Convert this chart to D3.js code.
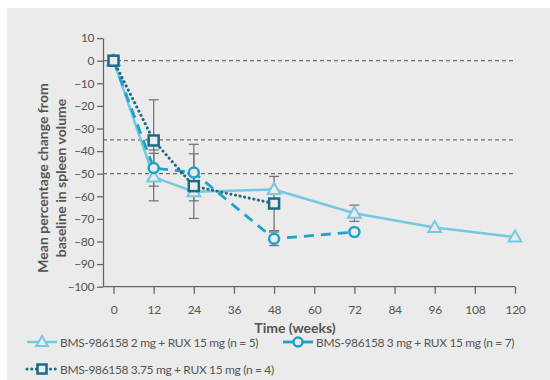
<!DOCTYPE html>
<html>
<head>
<meta charset="utf-8">
<script src="https://cdn.jsdelivr.net/npm/d3@7"></script>
<style>
  html, body { margin: 0; padding: 0; background: #fff; }
  svg { display: block; }
  text { font-family: Lato, "Open Sans", sans-serif; }
</style>
</head>
<body>
<svg id="chart" width="550" height="380"></svg>
<script>
// Time points (weeks) and tick labels
const xTicks = [0, 12, 24, 36, 48, 60, 72, 84, 96, 108, 120];
const yTicks = [10, 0, -10, -20, -30, -40, -50, -60, -70, -80, -90, -100];
const refLines = [0, -35, -50];

// Mean % change in spleen volume per cohort, with error-bar half-widths
const weeks2mg   = [0, 12, 24, 48, 72, 96, 120];
const mean2mg    = [0, -51.5, -58, -57, -67.5, -73.8, -78];
const err2mg     = [0, 10.5, 0, 0, 3.6, 0, 0];

const weeks3mg   = [0, 12, 24, 48, 72];
const mean3mg    = [0, -47.5, -49.5, -78.8, -75.8];
const err3mg     = [0, 8, 12.5, 3, 0];

const weeks375mg = [0, 12, 24, 48];
const mean375mg  = [0, -35.3, -55.5, -63.2];
const err375mg   = [0, 18, 14.3, 12];

const legendLabels = [
  "BMS-986158 2 mg + RUX 15 mg (n = 5)",
  "BMS-986158 3 mg + RUX 15 mg (n = 7)",
  "BMS-986158 3.75 mg + RUX 15 mg (n = 4)"
];

const bg = "#ebebeb";
const series = [
  { weeks: weeks2mg, mean: mean2mg, err: err2mg, color: "#74c8df", dash: null, cap: "butt", width: 2.5, shape: "triangle" },
  { weeks: weeks3mg, mean: mean3mg, err: err3mg, color: "#1ea3c6", dash: "10,7", cap: "butt", width: 2.8, shape: "circle" },
  { weeks: weeks375mg, mean: mean375mg, err: err375mg, color: "#1c6b83", dash: "0.1,4.6", cap: "round", width: 3, shape: "square" }
];

const svg = d3.select("#chart");
svg.append("rect").attr("x", 7).attr("y", 8).attr("width", 543).attr("height", 372).attr("fill", bg);

const x = d3.scaleLinear().domain([0, 120]).range([113.5, 515]);
const y = d3.scaleLinear().domain([-100, 10]).range([286.7, 38.1]);
const axisLeftX = 103;

// Reference lines
svg.append("g").selectAll("line").data(refLines).join("line")
  .attr("x1", axisLeftX).attr("x2", x(120))
  .attr("y1", d => y(d)).attr("y2", d => y(d))
  .attr("stroke", "#6e6e6e").attr("stroke-width", 1.2).attr("stroke-dasharray", "4,3");

// Y axis
const yAxis = svg.append("g").attr("transform", `translate(${axisLeftX},0)`)
  .call(d3.axisLeft(y).tickValues(yTicks).tickSize(6).tickPadding(3).tickSizeOuter(0));
yAxis.select(".domain").attr("stroke", "#666").attr("stroke-width", 1.3);
yAxis.selectAll(".tick line").attr("stroke", "#666").attr("stroke-width", 1.3);
yAxis.selectAll(".tick text").attr("fill", "#555").style("font-size", "12px").style("letter-spacing", "-0.4px");

// X axis
const xAxis = svg.append("g").attr("transform", `translate(0,${y(-100)})`)
  .call(d3.axisBottom(x).tickValues(xTicks).tickSize(7).tickPadding(12).tickSizeOuter(0));
xAxis.select(".domain").attr("d", `M${axisLeftX},0H${x(120)}`).attr("stroke", "#666").attr("stroke-width", 1.3);
xAxis.selectAll(".tick line").attr("stroke", "#666").attr("stroke-width", 1.3);
xAxis.selectAll(".tick text").attr("fill", "#555").style("font-size", "12px").style("letter-spacing", "-0.3px");

// Axis titles
svg.append("text").attr("x", 295).attr("y", 333).attr("text-anchor", "middle")
  .attr("fill", "#555").style("font-size", "14px").style("font-weight", "700").text("Time (weeks)");
const yt = svg.append("text").attr("transform", "translate(48,178) rotate(-90)")
  .attr("text-anchor", "middle").attr("fill", "#555").style("font-size", "14px").style("font-weight", "700");
yt.append("tspan").attr("x", 0).attr("dy", 0).text("Mean percentage change from");
yt.append("tspan").attr("x", 0).attr("dy", 18).text("baseline in spleen volume");

// Error bars
const eb = svg.append("g");
series.forEach(s => {
  s.weeks.forEach((w, i) => {
    const e = s.err[i];
    if (!e) return;
    const cx = x(w), y1 = y(s.mean[i] + e), y2 = y(s.mean[i] - e);
    eb.append("line").attr("x1", cx).attr("x2", cx).attr("y1", y1).attr("y2", y2)
      .attr("stroke", "#777").attr("stroke-width", 1.3);
    [y1, y2].forEach(yy => eb.append("line").attr("x1", cx - 5).attr("x2", cx + 5)
      .attr("y1", yy).attr("y2", yy).attr("stroke", "#777").attr("stroke-width", 1.3));
  });
});

const line = d3.line().x(d => x(d[0])).y(d => y(d[1]));

function drawMarker(g, shape, cx, cy, color, k = 1) {
  if (shape === "triangle") {
    const sym = d3.symbol().type(d3.symbolTriangle).size(70 * k * k);
    g.append("path").attr("d", sym()).attr("transform", `translate(${cx},${cy + 0.8 * k})`)
      .attr("fill", bg).attr("stroke", color).attr("stroke-width", 2);
  } else if (shape === "circle") {
    g.append("circle").attr("cx", cx).attr("cy", cy).attr("r", 5 * k)
      .attr("fill", bg).attr("stroke", color).attr("stroke-width", 2.5);
  } else {
    g.append("rect").attr("x", cx - 5 * k).attr("y", cy - 5 * k).attr("width", 10 * k).attr("height", 10 * k)
      .attr("fill", bg).attr("stroke", color).attr("stroke-width", 2.5);
  }
}

series.forEach(s => {
  const pts = s.weeks.map((w, i) => [w, s.mean[i]]);
  svg.append("path").datum(pts).attr("d", line)
    .attr("fill", "none").attr("stroke", s.color).attr("stroke-width", s.width)
    .attr("stroke-dasharray", s.dash).attr("stroke-linecap", s.cap);
});
series.forEach(s => {
  const g = svg.append("g");
  s.weeks.forEach((w, i) => drawMarker(g, s.shape, x(w), y(s.mean[i]), s.color));
});

// Legend
const legendPos = [[27, 342], [283, 342], [27, 369]];
series.forEach((s, i) => {
  const [lx, ly] = legendPos[i];
  const g = svg.append("g");
  g.append("line").attr("x1", lx).attr("x2", lx + 30).attr("y1", ly).attr("y2", ly)
    .attr("stroke", s.color).attr("stroke-width", s.width)
    .attr("stroke-dasharray", s.shape === "square" ? "0.1,4.6" : null).attr("stroke-linecap", s.cap);
  drawMarker(g, s.shape, lx + 15, ly, s.color, 0.9);
  g.append("text").attr("x", lx + 33).attr("y", ly + 4.5).attr("fill", "#555")
    .style("font-size", "12px").style("letter-spacing", "-0.35px").text(legendLabels[i]);
});
</script>
</body>
</html>
